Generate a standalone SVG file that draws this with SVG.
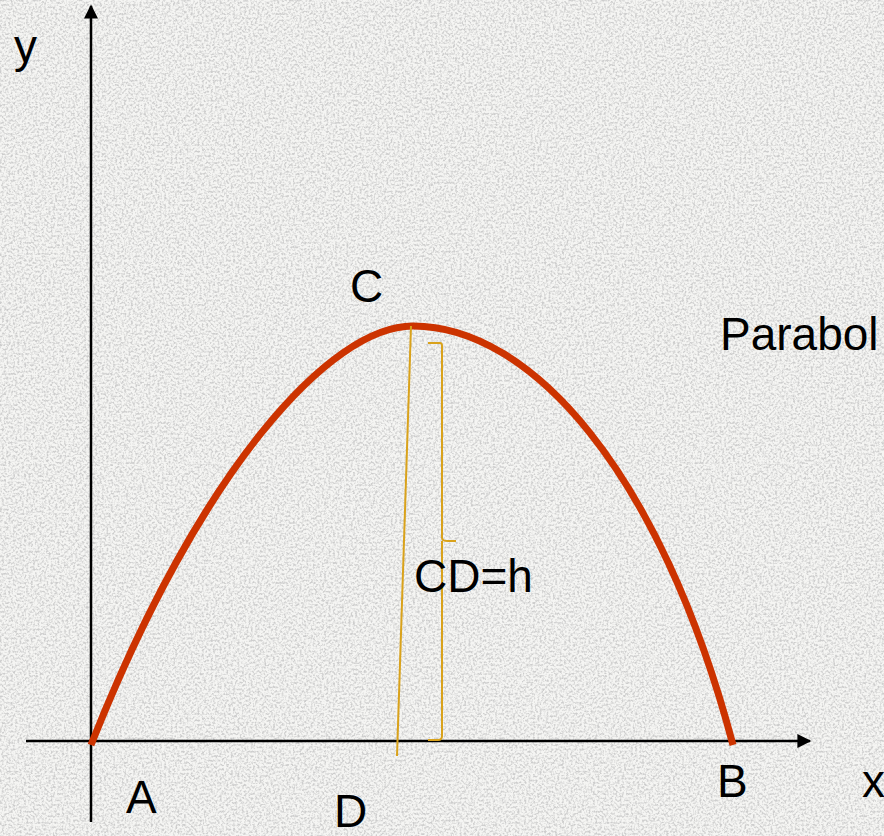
<svg xmlns="http://www.w3.org/2000/svg" width="884" height="836" viewBox="0 0 884 836">
<defs>
<filter id="grain" x="0" y="0" width="100%" height="100%">
<feTurbulence type="fractalNoise" baseFrequency="0.45" numOctaves="2" seed="5" result="n"/>
<feColorMatrix in="n" type="matrix" values="0 0 0 0 0.55  0 0 0 0 0.55  0 0 0 0 0.55  3 0 0 0 -1.25"/>
</filter>
<marker id="arrY" viewBox="0 0 10 10" refX="9" refY="5" markerWidth="16" markerHeight="14" markerUnits="userSpaceOnUse" orient="auto">
<path d="M0,0 L10,5 L0,10 z" fill="#000"/>
</marker>
<style>
.lbl{font-family:"Liberation Sans",Arial,sans-serif;font-size:46px;fill:#000}
.axis{stroke:#000;stroke-width:2.5;fill:none}
.gold{stroke:#D9A21B;stroke-width:2;fill:none}
</style>
</defs>
<rect width="884" height="836" fill="#f5f5f3"/>
<rect width="884" height="836" filter="url(#grain)" opacity="0.8"/>
<g id="connectors">
<line class="axis" x1="91" y1="822" x2="91" y2="6" marker-end="url(#arrY)"/>
<line class="axis" x1="26" y1="741" x2="810" y2="741" marker-end="url(#arrY)"/>
</g>
<g id="parabola">
<path d="M91,745 C200,470 330,326 413,326 C530,326 660,470 733,745" stroke="#CC3300" stroke-width="7" fill="none"/>
</g>
<g id="height-line">
<line class="gold" x1="411" y1="326" x2="397" y2="756"/>
<path class="gold" d="M428,343 L440,343 Q442,343 442,346 L442,538 Q442,541 448,541 L456,541 M442,541 L442,736 Q442,740 438,740 L428,740"/>
</g>
<g id="labels">
<text class="lbl" x="14" y="62">y</text>
<text class="lbl" x="350" y="302">C</text>
<text class="lbl" x="720" y="350">Parabol</text>
<text class="lbl" x="414" y="592">CD=h</text>
<text class="lbl" x="126" y="813">A</text>
<text class="lbl" x="334" y="827">D</text>
<text class="lbl" x="717" y="797">B</text>
<text class="lbl" x="862" y="797">x</text>
</g>
</svg>
